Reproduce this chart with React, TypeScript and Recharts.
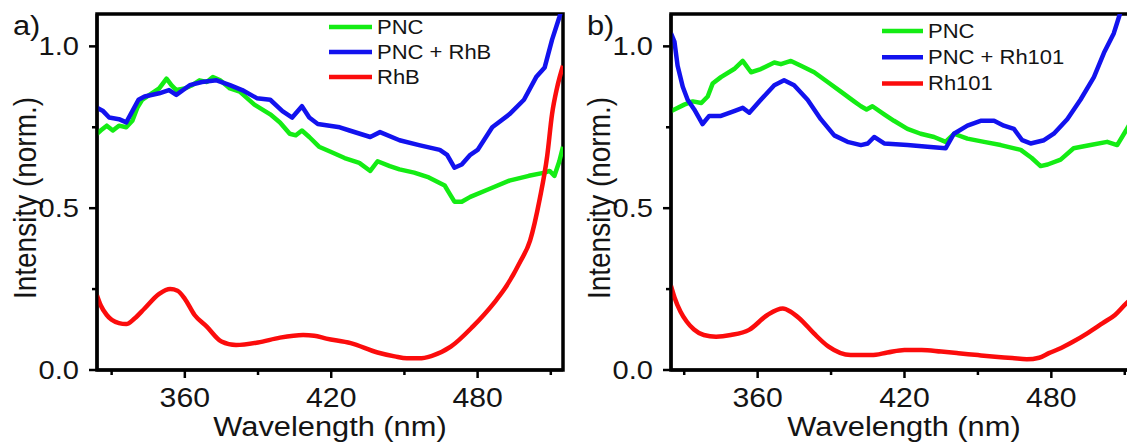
import React from 'react';
import { LineChart, Line, XAxis, YAxis, Legend, ReferenceArea } from 'recharts';

// panel a) - PNC / PNC + RhB / RhB, intensity (norm.) vs wavelength (nm)
const wlA_pnc = [324, 325.5, 328, 330.5, 333, 336, 338.5, 340.5, 342.5, 345.5, 349.5, 352.5, 354.5, 356.5, 360, 363, 366, 369, 371.5, 374.5, 378.5, 382.5, 388.5, 395, 399, 403, 405.5, 408, 411, 415, 419.5, 425.5, 431.5, 436, 439, 444, 448, 454, 460, 466.5, 468.5, 470.5, 473.5, 477, 485, 493, 501, 507.5, 509.5, 511.5, 513.5, 515];
const intA_pnc = [0.73, 0.74, 0.755, 0.74, 0.755, 0.75, 0.77, 0.81, 0.835, 0.85, 0.87, 0.9, 0.88, 0.865, 0.87, 0.88, 0.895, 0.89, 0.905, 0.895, 0.87, 0.86, 0.82, 0.79, 0.765, 0.73, 0.725, 0.74, 0.72, 0.69, 0.675, 0.655, 0.64, 0.615, 0.645, 0.63, 0.62, 0.61, 0.595, 0.57, 0.545, 0.52, 0.52, 0.535, 0.56, 0.585, 0.6, 0.61, 0.615, 0.6, 0.645, 0.69];

const wlA_pncRhB = [324, 326.5, 329, 333, 336, 338.5, 341, 343.5, 349.5, 353.5, 356.5, 362, 367, 373, 378.5, 383.5, 389.5, 395, 400, 404, 408, 411, 414.5, 423.5, 427.5, 436, 440, 448, 456, 464.5, 467.5, 470.5, 473.5, 477, 480, 486, 493, 499, 504, 507.5, 510.5, 513.5, 515];
const intA_pncRhB = [0.81, 0.8, 0.78, 0.775, 0.765, 0.8, 0.835, 0.845, 0.855, 0.865, 0.85, 0.88, 0.89, 0.895, 0.88, 0.865, 0.84, 0.835, 0.8, 0.78, 0.815, 0.78, 0.76, 0.75, 0.74, 0.72, 0.735, 0.71, 0.695, 0.68, 0.665, 0.625, 0.635, 0.665, 0.68, 0.75, 0.79, 0.835, 0.905, 0.935, 1.02, 1.09, 1.13];

const wlA_rhb = [324, 325.5, 328, 330, 333, 336, 339.5, 343.5, 349.5, 354, 357, 360, 364, 369, 375, 381, 390, 399, 408.5, 413, 418, 428, 439, 446, 451, 456, 461, 469, 478, 487, 491, 497.5, 501.5, 505.5, 508.5, 510.5, 512.5, 515];
const intA_rhb = [0.23, 0.2, 0.17, 0.155, 0.145, 0.142, 0.16, 0.19, 0.235, 0.25, 0.245, 0.22, 0.17, 0.134, 0.088, 0.077, 0.085, 0.1, 0.108, 0.106, 0.097, 0.083, 0.054, 0.042, 0.036, 0.036, 0.043, 0.072, 0.134, 0.21, 0.25, 0.335, 0.4, 0.53, 0.66, 0.79, 0.87, 0.94];

// panel b) - PNC / PNC + Rh101 / Rh101
const wlB_pnc = [324.6, 326, 330, 333.5, 337, 339.6, 341.6, 345, 350.4, 353.9, 357.3, 361.3, 366.8, 369.5, 373.6, 377.7, 383.1, 388.6, 394, 399.4, 402.2, 404.5, 406.9, 411.7, 415.7, 421.2, 426.6, 432.1, 436.8, 440.2, 445.7, 452.5, 459.3, 467.5, 472, 475.6, 478.5, 483.8, 489.1, 496, 502.8, 506.9, 510.5, 512];
const intB_pnc = [0.8, 0.805, 0.82, 0.83, 0.825, 0.845, 0.885, 0.905, 0.93, 0.955, 0.92, 0.93, 0.95, 0.945, 0.955, 0.94, 0.92, 0.89, 0.86, 0.83, 0.815, 0.805, 0.815, 0.79, 0.77, 0.745, 0.73, 0.72, 0.705, 0.73, 0.715, 0.705, 0.695, 0.68, 0.655, 0.63, 0.635, 0.65, 0.685, 0.695, 0.705, 0.695, 0.74, 0.76];

const wlB_pncRh101 = [324.6, 326, 327.3, 329.4, 331.4, 334.1, 337.5, 340.2, 345, 350.4, 353.9, 356.6, 361.3, 366.8, 370.8, 374.9, 380.4, 385.8, 391.3, 396.7, 402.2, 405, 407.6, 411.7, 421.2, 429.4, 436.8, 440.2, 445.7, 451.1, 456.6, 460.6, 464.7, 468.1, 471.5, 477, 481, 486.5, 491.9, 497.4, 501.5, 505.5, 507.6, 510.5];
const intB_pncRh101 = [1.04, 1.015, 0.94, 0.875, 0.835, 0.805, 0.76, 0.785, 0.785, 0.8, 0.81, 0.795, 0.835, 0.88, 0.895, 0.88, 0.835, 0.775, 0.725, 0.705, 0.695, 0.7, 0.72, 0.7, 0.695, 0.69, 0.685, 0.73, 0.755, 0.77, 0.77, 0.755, 0.745, 0.71, 0.7, 0.71, 0.73, 0.775, 0.835, 0.905, 0.98, 1.04, 1.09, 1.16];

const wlB_rh101 = [324.6, 326, 328.5, 331, 334, 338, 343, 349, 356.5, 364, 370.3, 373.5, 377, 383, 389, 398, 406.5, 413, 420, 427, 435, 442, 450, 457, 464, 470, 475, 479, 484, 489, 495, 501, 506, 510.5, 512];
const intB_rh101 = [0.26, 0.225, 0.18, 0.15, 0.125, 0.108, 0.103, 0.108, 0.124, 0.17, 0.19, 0.18, 0.16, 0.113, 0.072, 0.046, 0.046, 0.054, 0.062, 0.062, 0.057, 0.052, 0.046, 0.041, 0.037, 0.033, 0.038, 0.052, 0.068, 0.088, 0.115, 0.145, 0.17, 0.205, 0.215];

const xTicks = [330, 360, 390, 420, 450, 480, 510];
const xMajorTicks = [360, 420, 480];
const yTicks = [0, 0.25, 0.5, 0.75, 1.0];
const yMajorTicks = [0, 0.5, 1.0];

const GREEN = '#14ec14';
const BLUE = '#1212ee';
const RED = '#fb0c0c';
const INK = '#141414';
const FONT = '"Liberation Sans", Arial, sans-serif';
const SX = 1.12; // the figure is a bit stretched horizontally

const zip = (xs: number[], ys: number[]) => xs.map((wl, i) => ({ wl, v: ys[i] }));

interface Series {
  name: string;
  color: string;
  smooth?: boolean;
  points: { wl: number; v: number }[];
}

const renderXTick = (props: any) => {
  const { x, y, payload } = props;
  const major = xMajorTicks.includes(payload.value);
  return (
    <g>
      <line x1={x} x2={x} y1={y} y2={y + (major ? 8 : 5)} stroke="#000" strokeWidth={2.5} />
      {major && (
        <text transform={`translate(${x},${y + 37}) scale(${SX},1)`} textAnchor="middle" fontSize={27} fontFamily={FONT} fill={INK}>
          {payload.value}
        </text>
      )}
    </g>
  );
};

const renderYTick = (props: any) => {
  const { x, y, payload } = props;
  const major = yMajorTicks.includes(payload.value);
  return (
    <g>
      <line x1={x} x2={x - (major ? 8 : 5)} y1={y} y2={y} stroke="#000" strokeWidth={2.5} />
      {major && (
        <text transform={`translate(${x - 18},${y + 9}) scale(${SX},1)`} textAnchor="end" fontSize={26} fontFamily={FONT} fill={INK}>
          {payload.value.toFixed(1)}
        </text>
      )}
    </g>
  );
};

const legendContent = (gap: number, lineLen: number, textX: number) => (props: any) => (
  <svg width={220} height={3 * gap + 12} style={{ display: 'block', overflow: 'visible' }}>
    {(props.payload || []).map((item: any, i: number) => (
      <g key={item.value}>
        <line x1={0} x2={lineLen} y1={7 + i * gap} y2={7 + i * gap} stroke={item.color} strokeWidth={4.5} />
        <text transform={`translate(${textX},${13.5 + i * gap}) scale(1.1,1)`} fontSize={20} fontFamily={FONT} fill={INK}>
          {item.value}
        </text>
      </g>
    ))}
  </svg>
);

interface PanelProps {
  letter: string;
  series: Series[];
  domain: [number, number];
  left: number;
  width: number;
  axisWidth: number;
  marginRight: number;
  titleX: number;
  letterX: number;
  legendLeft: number;
  legendTop: number;
  legendGap: number;
  legendLine: number;
  legendTextX: number;
}

const Panel: React.FC<PanelProps> = (p) => {
  const plotMid = (p.axisWidth + p.width - p.marginRight) / 2;
  return (
    <div style={{ position: 'absolute', left: p.left, top: 0 }}>
      <LineChart width={p.width} height={442} margin={{ top: 14, right: p.marginRight, bottom: 0, left: 0 }}>
        <XAxis
          dataKey="wl"
          type="number"
          domain={p.domain}
          allowDataOverflow
          ticks={xTicks}
          interval={0}
          tickSize={0}
          tickMargin={0}
          tickLine={false}
          tick={renderXTick}
          height={72}
          axisLine={{ stroke: '#000', strokeWidth: 3 }}
          label={{
            content: () => (
              <text transform={`translate(${plotMid},436) scale(1.1,1)`} textAnchor="middle" fontSize={28} fontFamily={FONT} fill={INK}>
                Wavelength (nm)
              </text>
            ),
          }}
        />
        <YAxis
          type="number"
          domain={[0, 1.1]}
          allowDataOverflow
          ticks={yTicks}
          interval={0}
          tickSize={0}
          tickMargin={0}
          tickLine={false}
          tick={renderYTick}
          width={p.axisWidth}
          axisLine={{ stroke: '#000', strokeWidth: 3 }}
          label={{
            content: () => (
              <g>
                <text transform={`translate(${p.titleX},198) rotate(-90) scale(1,1.1)`} textAnchor="middle" fontSize={28} fontFamily={FONT} fill={INK}>
                  Intensity (norm.)
                </text>
                <text transform={`translate(${p.letterX},35) scale(1.1,1)`} fontSize={28} fontFamily={FONT} fill={INK}>
                  {p.letter}
                </text>
              </g>
            ),
          }}
        />
        <ReferenceArea x1={p.domain[0]} x2={p.domain[1]} y1={0} y2={1.1} fill="none" stroke="#000" strokeWidth={3.5} />
        {p.series.map((s) => (
          <Line
            key={s.name}
            data={s.points}
            dataKey="v"
            name={s.name}
            type={s.smooth ? 'monotone' : 'linear'}
            stroke={s.color}
            strokeWidth={4.5}
            strokeLinejoin="round"
            dot={false}
            activeDot={false}
            isAnimationActive={false}
          />
        ))}
        <Legend
          layout="vertical"
          align="center"
          verticalAlign="middle"
          wrapperStyle={{ left: p.legendLeft, top: p.legendTop, width: 220 }}
          content={legendContent(p.legendGap, p.legendLine, p.legendTextX)}
        />
      </LineChart>
    </div>
  );
};

const seriesA: Series[] = [
  { name: 'PNC', color: GREEN, points: zip(wlA_pnc, intA_pnc) },
  { name: 'PNC + RhB', color: BLUE, points: zip(wlA_pncRhB, intA_pncRhB) },
  { name: 'RhB', color: RED, smooth: true, points: zip(wlA_rhb, intA_rhb) },
];

const seriesB: Series[] = [
  { name: 'PNC', color: GREEN, points: zip(wlB_pnc, intB_pnc) },
  { name: 'PNC + Rh101', color: BLUE, points: zip(wlB_pncRh101, intB_pncRh101) },
  { name: 'Rh101', color: RED, smooth: true, points: zip(wlB_rh101, intB_rh101) },
];

export default function App() {
  return (
    <div style={{ position: 'relative', width: 1127, height: 442, overflow: 'hidden', background: '#fff' }}>
      <style>{'body{margin:0}'}</style>
      <Panel
        letter="a)"
        series={seriesA}
        domain={[324, 515]}
        left={0}
        width={570}
        axisWidth={97}
        marginRight={7}
        titleX={36}
        letterX={13}
        legendLeft={329}
        legendTop={20}
        legendGap={25}
        legendLine={43}
        legendTextX={48}
      />
      <Panel
        letter="b)"
        series={seriesB}
        domain={[324.6, 515]}
        left={570}
        width={577}
        axisWidth={101}
        marginRight={10}
        titleX={40}
        letterX={17}
        legendLeft={312}
        legendTop={24}
        legendGap={26.3}
        legendLine={41}
        legendTextX={46}
      />
    </div>
  );
}
